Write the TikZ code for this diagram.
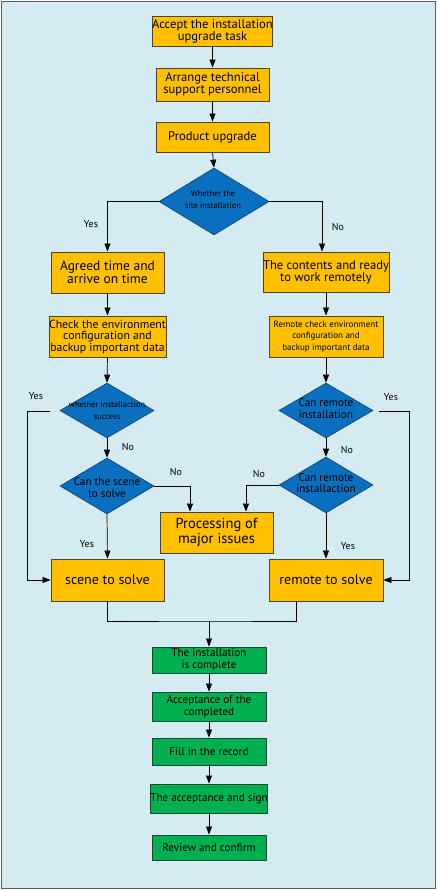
\documentclass[tikz,border=0pt]{standalone}
\usepackage{fontspec}
\setmainfont{PT Sans}
\usetikzlibrary{shapes.geometric,arrows.meta}
\definecolor{bgc}{HTML}{D5EBF2}
\definecolor{framec}{HTML}{5A5F60}
\definecolor{orangef}{HTML}{FFC000}
\definecolor{orangel}{HTML}{4A4430}
\definecolor{bluef}{HTML}{0A6FBF}
\definecolor{bluel}{HTML}{0A3F6F}
\definecolor{greenf}{HTML}{00B050}
\definecolor{greenl}{HTML}{1A4A2A}
\begin{document}
\begin{tikzpicture}[x=1pt,y=-1pt,
  obox/.style={draw=orangel,fill=orangef,line width=0.9pt,inner sep=0pt,align=center},
  gbox/.style={draw=greenl,fill=greenf,line width=0.9pt,inner sep=0pt,align=center,minimum width=114pt,font=\fontsize{11.2}{12}\selectfont},
  dia/.style={diamond,draw=bluel,fill=bluef,line width=0.6pt,inner sep=0pt,aspect=1.6},
  dtext/.style={align=center,inner sep=0pt},
  lab/.style={inner sep=0pt,font=\fontsize{10}{11}\selectfont},
  arr/.style={draw=black,line width=0.7pt,-{Triangle[length=8pt,width=6pt]}},
  ln/.style={draw=black,line width=0.7pt}]
\useasboundingbox (0,0) rectangle (437,890);
\draw[fill=bgc,draw=framec,line width=1.2pt] (1.5,1.5) rectangle (435.5,888.5);

% top chain
\node[obox,minimum width=113pt,minimum height=30pt,font=\fontsize{12.6}{12}\selectfont] (a1) at (212.5,31) {Accept the installation\\upgrade task};
\node[obox,minimum width=113pt,minimum height=33pt,font=\fontsize{12.6}{12}\selectfont] (a2) at (212.5,84.5) {Arrange technical\\support personnel};
\node[obox,minimum width=113pt,minimum height=30pt,font=\fontsize{12.6}{12}\selectfont] (a3) at (212.5,137) {Product upgrade};

\node[dia,minimum width=110pt,minimum height=67pt] (d1) at (214,201.5) {};
\node[dtext,font=\fontsize{8.4}{12}\selectfont] (d1t) at (213,200) {Whether the\\site installation};

% left branch
\node[obox,minimum width=113pt,minimum height=41pt,font=\fontsize{13.5}{12.5}\selectfont] (agr) at (107.5,272.5) {Agreed time and\\arrive on time};
\node[obox,minimum width=113pt,minimum height=41pt,font=\fontsize{11.8}{11.5}\selectfont] (chk) at (107.5,336.5) {Check the environment\\configuration and\\backup important data};
\node[dia,minimum width=94pt,minimum height=55pt] (dl1) at (107,410.5) {};
\node[dtext,font=\fontsize{8.4}{12}\selectfont] (dl1t) at (107,411) {whether installaction\\success};
\node[dia,minimum width=94pt,minimum height=56pt] (dl2) at (107,486) {};
\node[dtext,font=\fontsize{11.2}{12}\selectfont] (dl2t) at (107,488) {Can the scene\\to solve};
\node[obox,minimum width=113pt,minimum height=42pt,font=\fontsize{14}{13}\selectfont] (scn) at (107.5,580) {scene to solve};

% right branch
\node[obox,minimum width=114pt,minimum height=40pt,font=\fontsize{12.6}{12}\selectfont] (rmc) at (326,272) {The contents and ready\\to work remotely};
\node[obox,minimum width=114pt,minimum height=41pt,font=\fontsize{9}{11.5}\selectfont] (rchk) at (326,336.5) {Remote check environment\\configuration and\\backup important data};
\node[dia,minimum width=94pt,minimum height=55pt] (dr1) at (326,410.5) {};
\node[dtext,font=\fontsize{11.2}{11.5}\selectfont] (dr1t) at (326,408.5) {Can remote\\installation};
\node[dia,minimum width=94pt,minimum height=56pt] (dr2) at (326,485) {};
\node[dtext,font=\fontsize{11.2}{11.5}\selectfont] (dr2t) at (326,483) {Can remote\\installaction};
\node[obox,minimum width=114pt,minimum height=42pt,font=\fontsize{14}{13}\selectfont] (rem) at (326,580) {remote to solve};

\node[obox,minimum width=113pt,minimum height=41pt,font=\fontsize{14.5}{12}\selectfont] (proc) at (216.5,532.5) {Processing of\\major issues};

% green chain
\node[gbox,minimum height=26pt] (g1) at (209,660) {The installation\\is complete};
\node[gbox,minimum height=29pt] (g2) at (209,706.5) {Acceptance of the\\completed};
\node[gbox,minimum height=27pt] (g3) at (209,751.5) {Fill in the record};
\node[gbox,minimum height=29pt] (g4) at (209,798.5) {The acceptance and sign};
\node[gbox,minimum height=25pt] (g5) at (209,847.5) {Review and confirm};

% connectors
\draw[arr] (a1) -- (a2);
\draw[arr] (a2) -- (a3);
\draw[arr] (a3.south) -- (d1.north);
\draw[arr] (d1.west) -| (agr.north);
\draw[arr] (d1.east) -| ([xshift=-4pt]rmc.north);
\draw[arr] (agr) -- (chk);
\draw[arr] (rmc) -- (rchk);
\draw[arr] (chk.south) -- (dl1.north);
\draw[arr] (rchk.south) -- (dr1.north);
\draw[arr] (dl1.south) -- (dl2.north);
\draw[arr] (dr1.south) -- (dr2.north);
\draw[arr] (dl2.south) -- (scn.north);
\draw[arr] (dr2.south) -- (rem.north);
\coordinate (yl) at (50,411);
\coordinate (yr) at (379,411);
\draw[arr] (yl) -- (27,411) |- (scn.west);
\draw[arr] (yr) -- (409,411) |- (rem.east);
\draw[arr] (dl2.east) -| ([xshift=-26.5pt]proc.north);
\draw[arr] (dr2.west) -| ([xshift=29.5pt]proc.north);
\coordinate (j) at (209,621);
\draw[ln] (scn.south) |- (j) -| ([xshift=-30pt]rem.south);
\draw[arr] (j) -- (g1.north);
\draw[arr] (g1) -- (g2);
\draw[arr] (g2) -- (g3);
\draw[arr] (g3) -- (g4);
\draw[arr] (g4) -- (g5);

% labels
\node[lab] (l1) at (91,224) {Yes};
\node[lab] (l2) at (338,227) {No};
\node[lab] (l3) at (36,396) {Yes};
\node[lab] (l4) at (391,397) {Yes};
\node[lab] (l5) at (128,447) {No};
\node[lab] (l6) at (347,450) {No};
\node[lab] (l7) at (176,472) {No};
\node[lab] (l8) at (259,474) {No};
\node[lab] (l9) at (87,544) {Yes};
\node[lab] (l10) at (348,546) {Yes};
\end{tikzpicture}
\end{document}
